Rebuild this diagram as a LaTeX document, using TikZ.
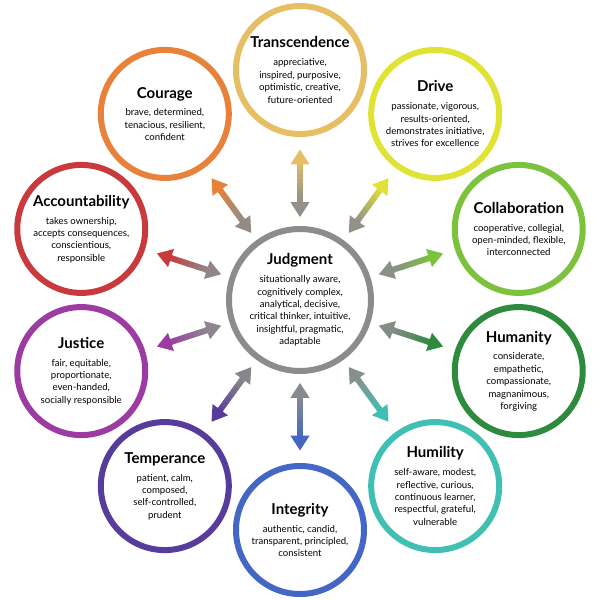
\documentclass[tikz,border=0pt]{standalone}
\usepackage{fontspec}
\setmainfont{Lato}
\usetikzlibrary{arrows.meta, calc}

\definecolor{judg}{HTML}{8C8C8C}
\definecolor{transc}{HTML}{E6BE64}
\definecolor{drive}{HTML}{E0E234}
\definecolor{collab}{HTML}{7CC23C}
\definecolor{human}{HTML}{2E8A3C}
\definecolor{humil}{HTML}{40C0B2}
\definecolor{integ}{HTML}{4466C4}
\definecolor{temper}{HTML}{583C9C}
\definecolor{justice}{HTML}{9C3CA2}
\definecolor{account}{HTML}{C83A3C}
\definecolor{courage}{HTML}{E8823A}

\newcommand{\vtitle}[1]{{\fontsize{15}{17}\selectfont\bfseries #1}\\[5.5pt]}
% double arrow, colour running from grey (centre) to the virtue colour
\newcommand{\linkarrow}[1]{%
  \foreach \i in {0,...,9}{%
    \pgfmathsetmacro{\ta}{0.41+0.0195*\i}%
    \pgfmathsetmacro{\tb}{\ta+0.0215}%
    \pgfmathtruncatemacro{\pc}{5+10*\i}%
    \draw[line width=6pt, color=#1!\pc!judg]
      ($(judg)!\ta!(#1)$) -- ($(judg)!\tb!(#1)$);
  }
  \draw[line width=6pt, color=#1!8!judg, -{Triangle[length=15pt,width=18pt]}]
    ($(judg)!0.43!(#1)$) -- ($(judg)!0.36!(#1)$);
  \draw[line width=6pt, color=#1, -{Triangle[length=15pt,width=18pt]}]
    ($(judg)!0.585!(#1)$) -- ($(judg)!0.655!(#1)$);
}

\begin{document}
\begin{tikzpicture}[x=1pt, y=1pt]
  \tikzset{
    virtue/.style={circle, draw=#1, line width=6pt, minimum size=128pt,
                   inner sep=0pt, align=center,
                   font=\fontsize{9.6}{12.4}\selectfont},
    core/.style={virtue=judg, minimum size=142pt}
  }
  \useasboundingbox (-300,-300) rectangle (300,300);

  \node[core] (judg) at (0,0) {\vtitle{Judgment}situationally aware,\\cognitively complex,\\analytical, decisive,\\critical thinker, intuitive,\\insightful, pragmatic,\\adaptable};

  \node[virtue=transc] (transc) at (90:230) {\vtitle{Transcendence}appreciative,\\inspired, purposive,\\optimistic, creative,\\future-oriented};
  \node[virtue=drive] (drive) at (54:230) {\vtitle{Drive}passionate, vigorous,\\results-oriented,\\demonstrates initiative,\\strives for excellence};
  \node[virtue=collab] (collab) at (18:230) {\vtitle{Collaboration}cooperative, collegial,\\open-minded, flexible,\\interconnected};
  \node[virtue=human] (human) at (-18:230) {\vtitle{Humanity}considerate,\\empathetic,\\compassionate,\\magnanimous,\\forgiving};
  \node[virtue=humil] (humil) at (-54:230) {\vtitle{Humility}self-aware, modest,\\reflective, curious,\\continuous learner,\\respectful, grateful,\\vulnerable};
  \node[virtue=integ] (integ) at (-90:230) {\vtitle{Integrity}authentic, candid,\\transparent, principled,\\consistent};
  \node[virtue=temper] (temper) at (-126:230) {\vtitle{Temperance}patient, calm,\\composed,\\self-controlled,\\prudent};
  \node[virtue=justice] (justice) at (-162:230) {\vtitle{Justice}fair, equitable,\\proportionate,\\even-handed,\\socially responsible};
  \node[virtue=account] (account) at (162:230) {\vtitle{Accountability}takes ownership,\\accepts consequences,\\conscientious,\\responsible};
  \node[virtue=courage] (courage) at (126:230) {\vtitle{Courage}brave, determined,\\tenacious, resilient,\\confident};

  \foreach \n in {transc, drive, collab, human, humil, integ, temper, justice, account, courage}
    {\linkarrow{\n}}
\end{tikzpicture}
\end{document}
